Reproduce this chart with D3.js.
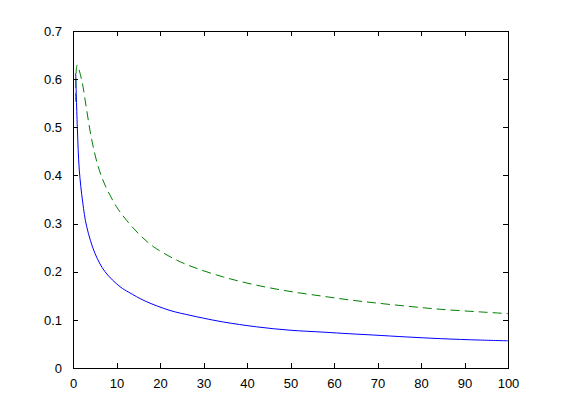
<!DOCTYPE html>
<html>
<head>
<meta charset="utf-8">
<script src="https://cdn.jsdelivr.net/npm/d3@7"></script>
<style>
  body { margin: 0; background: #fff; }
  svg text { font-family: "Liberation Sans", Arial, sans-serif; font-size: 13px; fill: #000; }
</style>
</head>
<body>
<div id="chart"></div>
<script>
// values
var blueX = [0.62, 0.99, 1.45, 2.22, 3.14, 5.06, 7.36, 10.8, 12.9, 16.6, 22.3, 26.9, 30, 34.6, 42.2, 49.9, 57.5, 63.5, 69, 76.7, 84.4, 93.6, 100];
var blueY = [0.612, 0.501, 0.411, 0.345, 0.294, 0.238, 0.200, 0.169, 0.157, 0.139, 0.1195, 0.1095, 0.1035, 0.0955, 0.0855, 0.0785, 0.0745, 0.0712, 0.0685, 0.0645, 0.061, 0.058, 0.0565];

var greenX = [0.62, 0.95, 2.0, 3.14, 4.3, 5.8, 7.36, 10.0, 12.3, 15.4, 18.5, 23.4, 27.8, 34.6, 42.2, 49.9, 57.5, 63.5, 69, 76.7, 84.4, 93.6, 100];
var greenY = [0.553, 0.629, 0.598, 0.536, 0.474, 0.418, 0.380, 0.335, 0.307, 0.276, 0.252, 0.226, 0.209, 0.189, 0.172, 0.159, 0.149, 0.1415, 0.1357, 0.1285, 0.122, 0.1165, 0.113];

var xTicks = [0, 10, 20, 30, 40, 50, 60, 70, 80, 90, 100];
var yTicks = [0, 0.1, 0.2, 0.3, 0.4, 0.5, 0.6, 0.7];

var width = 561, height = 414;
var margin = {top: 31, right: 53, bottom: 46, left: 73};
var w = width - margin.left - margin.right,
    h = height - margin.top - margin.bottom;

var svg = d3.select("#chart").append("svg")
    .attr("width", width)
    .attr("height", height);

var g = svg.append("g")
    .attr("transform", "translate(" + margin.left + "," + margin.top + ")");

var x = d3.scaleLinear().domain([0, 100]).range([0, w]);
var y = d3.scaleLinear().domain([0, 0.7]).range([h, 0]);

// curves
var line = d3.line()
    .x(function(d) { return x(d[0]); })
    .y(function(d) { return y(d[1]); })
    .curve(d3.curveCatmullRom.alpha(0.5));

g.append("path")
    .datum(d3.zip(blueX, blueY))
    .attr("d", line)
    .attr("fill", "none")
    .attr("stroke", "#0000ff")
    .attr("stroke-width", 1);

g.append("path")
    .datum(d3.zip(greenX, greenY))
    .attr("d", line)
    .attr("fill", "none")
    .attr("stroke", "#008000")
    .attr("stroke-width", 1)
    .attr("stroke-dasharray", "9,5");

// axes, ticks pointing inward like matlab, box on
function style(sel) {
    sel.select(".domain").remove();
    sel.selectAll("line").attr("stroke", "#000").attr("shape-rendering", "crispEdges");
    sel.selectAll("text").style("font-family", "'Liberation Sans', Arial, sans-serif").style("font-size", "13px");
}

g.append("g")
    .attr("transform", "translate(0," + h + ")")
    .call(d3.axisBottom(x).tickValues(xTicks).tickFormat(d3.format("d")).tickSizeInner(-5).tickPadding(11))
    .call(style);

g.append("g")
    .call(d3.axisTop(x).tickValues(xTicks).tickFormat("").tickSizeInner(-5))
    .call(style);

g.append("g")
    .call(d3.axisLeft(y).tickValues(yTicks).tickFormat(function(d) { return d === 0 ? "0" : d3.format(".1f")(d); }).tickSizeInner(-5).tickPadding(11))
    .call(style);

g.append("g")
    .attr("transform", "translate(" + w + ",0)")
    .call(d3.axisRight(y).tickValues(yTicks).tickFormat("").tickSizeInner(-5))
    .call(style);

g.append("rect")
    .attr("x", 0.5).attr("y", 0.5)
    .attr("width", w).attr("height", h)
    .attr("fill", "none")
    .attr("stroke", "#000")
    .attr("shape-rendering", "crispEdges");
</script>
</body>
</html>
